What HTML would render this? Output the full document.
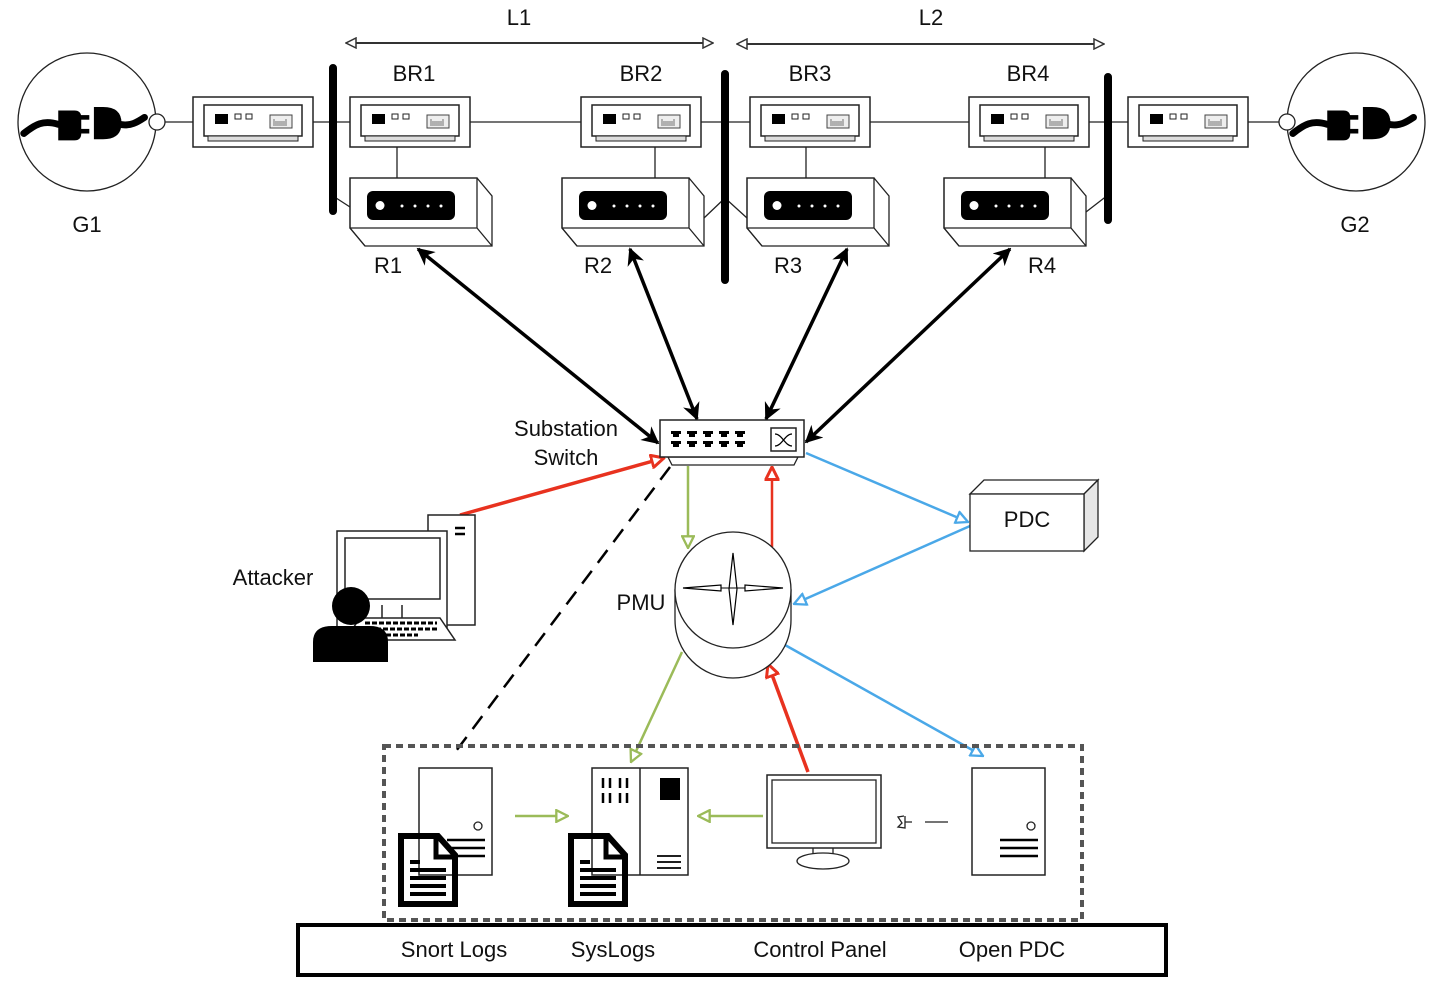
<!DOCTYPE html>
<html><head><meta charset="utf-8"><style>
html,body{margin:0;padding:0;background:#fff}
svg{display:block}
text{font-family:"Liberation Sans",Arial,sans-serif;font-size:22px;fill:#111}
</style></head><body>
<svg width="1435" height="994" viewBox="0 0 1435 994" xmlns="http://www.w3.org/2000/svg">
<defs>
<marker id="ab" viewBox="0 0 10 10" refX="9" refY="5" markerWidth="5" markerHeight="5" orient="auto-start-reverse"><path d="M0,0 L10,5 L0,10 L3,5 z" fill="#000"/></marker>
<marker id="ow" viewBox="0 0 12 12" refX="11" refY="6" markerWidth="12" markerHeight="12" markerUnits="userSpaceOnUse" orient="auto-start-reverse"><path d="M1,1 L11,6 L1,11 z" fill="#fff" stroke="#333" stroke-width="1.5"/></marker>
<marker id="og" viewBox="0 0 12 12" refX="11" refY="6" markerWidth="14" markerHeight="14" markerUnits="userSpaceOnUse" orient="auto"><path d="M1,1 L11,6 L1,11 z" fill="#fff" stroke="#9bbb59" stroke-width="2"/></marker>
<marker id="or" viewBox="0 0 12 12" refX="11" refY="6" markerWidth="15" markerHeight="15" markerUnits="userSpaceOnUse" orient="auto"><path d="M1,1 L11,6 L1,11 z" fill="#fff" stroke="#e8321f" stroke-width="2.4"/></marker>
<marker id="obl" viewBox="0 0 12 12" refX="11" refY="6" markerWidth="14" markerHeight="14" markerUnits="userSpaceOnUse" orient="auto"><path d="M1,1 L11,6 L1,11 z" fill="#fff" stroke="#4aa8e8" stroke-width="2"/></marker>
<g id="brk">
<rect x="0" y="0" width="120" height="50" fill="#fff" stroke="#222" stroke-width="1.5"/>
<rect x="11" y="8" width="98" height="31" fill="#fff" stroke="#222" stroke-width="1.5"/>
<rect x="15" y="39" width="90" height="5" fill="#ddd" stroke="#222" stroke-width="1"/>
<rect x="22" y="17" width="13" height="10" fill="#000"/>
<rect x="42" y="17" width="6" height="5" fill="#fff" stroke="#222"/>
<rect x="53" y="17" width="6" height="5" fill="#fff" stroke="#222"/>
<rect x="77" y="18" width="22" height="13" fill="#eee" stroke="#444"/>
<path d="M81,22v7M83,24v5M85,24v5M87,24v5M89,24v5M91,24v5M93,22v7" stroke="#555" stroke-width="0.8"/>
</g>
<g id="rtr">
<path d="M0,0 H127 L142,18 V68 H15 L0,50 Z" fill="#fff" stroke="#222" stroke-width="1.3"/>
<path d="M0,0 H127 V50 H0 Z M127,50 L142,68 M0,50 L15,68" fill="none" stroke="#222" stroke-width="1.3"/>
<rect x="17" y="13" width="88" height="29" rx="6" fill="#000"/>
<circle cx="30" cy="27.5" r="4.5" fill="#fff"/>
<circle cx="52" cy="28" r="1.5" fill="#fff"/><circle cx="65" cy="28" r="1.5" fill="#fff"/><circle cx="78" cy="28" r="1.5" fill="#fff"/><circle cx="91" cy="28" r="1.5" fill="#fff"/>
</g>
<g id="plug">
<path d="M-55,10 C-45,2 -38,-2 -25,2" stroke="#000" stroke-width="6" fill="none" stroke-linecap="round"/>
<path d="M-25,-10 h14 q6,0 6,6 v14 q0,6 -6,6 h-14 z" fill="#000"/>
<rect x="-7" y="-6" width="9" height="4" fill="#000"/><rect x="-7" y="6" width="9" height="4" fill="#000"/>
<path d="M6,-13 h8 q16,0 16,14 q0,14 -16,14 h-8 z" fill="#000"/>
<path d="M28,2 C38,4 44,0 50,-4" stroke="#000" stroke-width="6" fill="none" stroke-linecap="round"/>
</g>
<g id="srv">
<rect x="0" y="0" width="73" height="107" fill="#fff" stroke="#222" stroke-width="1.5"/>
<circle cx="59" cy="58" r="4" fill="#fff" stroke="#222" stroke-width="1.3"/>
<path d="M28,72h38M28,80h38M28,88h38" stroke="#000" stroke-width="2.5"/>
</g>
<g id="doc">
<path d="M3,3 H40 L57,22 V71 H3 Z" fill="none" stroke="#000" stroke-width="6"/>
<path d="M38,3 V24 H57" fill="none" stroke="#000" stroke-width="5"/>
<path d="M12,29h10M12,37h36M12,45h36M12,53h36M12,61h36" stroke="#000" stroke-width="4"/>
</g>
</defs>

<line x1="346" y1="43" x2="713" y2="43" stroke="#333" stroke-width="2" marker-start="url(#ow)" marker-end="url(#ow)"/>
<line x1="737" y1="44" x2="1104" y2="44" stroke="#333" stroke-width="2" marker-start="url(#ow)" marker-end="url(#ow)"/>
<text x="519" y="25" text-anchor="middle">L1</text>
<text x="931" y="25" text-anchor="middle">L2</text>

<line x1="157" y1="122" x2="1287" y2="122" stroke="#222" stroke-width="1.3"/>
<circle cx="87" cy="122" r="69" fill="#fff" stroke="#222" stroke-width="1.3"/>
<use href="#plug" transform="translate(87,122) scale(1.15)"/>
<circle cx="157" cy="122" r="8" fill="#fff" stroke="#222" stroke-width="1.3"/>
<circle cx="1356" cy="122" r="69" fill="#fff" stroke="#222" stroke-width="1.3"/>
<use href="#plug" transform="translate(1356,122) scale(1.15)"/>
<circle cx="1287" cy="122" r="8" fill="#fff" stroke="#222" stroke-width="1.3"/>
<text x="87" y="232" text-anchor="middle">G1</text>
<text x="1355" y="232" text-anchor="middle">G2</text>

<path d="M397,147V178M655,147V178M806,147V178M1045,147V178" stroke="#222" stroke-width="1.3"/>
<path d="M333,196L350,207M704,218L725,198M747,218L725,198M1086,212L1108,195" stroke="#222" stroke-width="1.3"/>

<use href="#brk" x="193" y="97"/>
<use href="#brk" x="350" y="97"/>
<use href="#brk" x="581" y="97"/>
<use href="#brk" x="750" y="97"/>
<use href="#brk" x="969" y="97"/>
<use href="#brk" x="1128" y="97"/>

<use href="#rtr" x="350" y="178"/>
<use href="#rtr" x="562" y="178"/>
<use href="#rtr" x="747" y="178"/>
<use href="#rtr" x="944" y="178"/>

<path d="M333,68V211M725,74V280M1108,77V220" stroke="#000" stroke-width="8" stroke-linecap="round"/>

<text x="414" y="81" text-anchor="middle">BR1</text>
<text x="641" y="81" text-anchor="middle">BR2</text>
<text x="810" y="81" text-anchor="middle">BR3</text>
<text x="1028" y="81" text-anchor="middle">BR4</text>
<text x="388" y="273" text-anchor="middle">R1</text>
<text x="598" y="273" text-anchor="middle">R2</text>
<text x="788" y="273" text-anchor="middle">R3</text>
<text x="1042" y="273" text-anchor="middle">R4</text>

<g stroke="#000" stroke-width="3.5" fill="none">
<line x1="418" y1="249" x2="658" y2="443" marker-start="url(#ab)" marker-end="url(#ab)"/>
<line x1="630" y1="249" x2="697" y2="419" marker-start="url(#ab)" marker-end="url(#ab)"/>
<line x1="847" y1="249" x2="766" y2="419" marker-start="url(#ab)" marker-end="url(#ab)"/>
<line x1="1010" y1="249" x2="806" y2="442" marker-start="url(#ab)" marker-end="url(#ab)"/>
</g>

<line x1="670" y1="467" x2="453" y2="755" stroke="#000" stroke-width="2.5" stroke-dasharray="16,10"/>

<line x1="688" y1="466" x2="688" y2="548" stroke="#9bbb59" stroke-width="2.5" marker-end="url(#og)"/>
<line x1="772" y1="547" x2="772" y2="467" stroke="#e8321f" stroke-width="2.5" marker-end="url(#or)"/>
<line x1="460" y1="515" x2="664" y2="458" stroke="#e8321f" stroke-width="3.5" marker-end="url(#or)"/>
<line x1="806" y1="453" x2="968" y2="522" stroke="#4aa8e8" stroke-width="2.5" marker-end="url(#obl)"/>
<line x1="970" y1="526" x2="794" y2="604" stroke="#4aa8e8" stroke-width="2.5" marker-end="url(#obl)"/>
<line x1="785" y1="645" x2="983" y2="756" stroke="#4aa8e8" stroke-width="2.5" marker-end="url(#obl)"/>
<line x1="682" y1="652" x2="631" y2="762" stroke="#9bbb59" stroke-width="2.5" marker-end="url(#og)"/>
<line x1="808" y1="772" x2="768" y2="664" stroke="#e8321f" stroke-width="3.5" marker-end="url(#or)"/>

<path d="M668,457 H798 L794,465 H672 Z" fill="#fff" stroke="#222" stroke-width="1.3"/>
<rect x="660" y="420" width="144" height="37" fill="#fff" stroke="#222" stroke-width="1.5"/>
<g fill="#000">
<path d="M671,431h10v3h-2v3h-6v-3h-2z"/>
<path d="M671,431h10v3h-2v3h-6v-3h-2z" transform="translate(16,0)"/>
<path d="M671,431h10v3h-2v3h-6v-3h-2z" transform="translate(32,0)"/>
<path d="M671,431h10v3h-2v3h-6v-3h-2z" transform="translate(48,0)"/>
<path d="M671,431h10v3h-2v3h-6v-3h-2z" transform="translate(64,0)"/>
<path d="M671,431h10v3h-2v3h-6v-3h-2z" transform="translate(0,10)"/>
<path d="M671,431h10v3h-2v3h-6v-3h-2z" transform="translate(16,10)"/>
<path d="M671,431h10v3h-2v3h-6v-3h-2z" transform="translate(32,10)"/>
<path d="M671,431h10v3h-2v3h-6v-3h-2z" transform="translate(48,10)"/>
<path d="M671,431h10v3h-2v3h-6v-3h-2z" transform="translate(64,10)"/>
</g>
<rect x="771" y="428" width="25" height="23" fill="#fff" stroke="#222" stroke-width="1.5"/>
<path d="M775,434 C782,434 785,446 792,446 M775,446 C782,446 785,434 792,434" stroke="#000" stroke-width="1.3" fill="none"/>
<text x="566" y="436" text-anchor="middle">Substation</text>
<text x="566" y="465" text-anchor="middle">Switch</text>

<path d="M675,590 V620 A58,58 0 0 0 791,620 V590 Z" fill="#fff" stroke="#222" stroke-width="1.3"/>
<circle cx="733" cy="590" r="58" fill="#fff" stroke="#222" stroke-width="1.3"/>
<path d="M733,553 L737,589 L733,625 L729,589 Z" fill="#fff" stroke="#000" stroke-width="1.2"/>
<path d="M683,588 L721,585 V591 Z M783,588 L745,585 V591 Z" fill="#fff" stroke="#000" stroke-width="1.2"/>
<line x1="721" y1="588" x2="745" y2="588" stroke="#000"/>
<text x="641" y="610" text-anchor="middle">PMU</text>

<path d="M970,494 L984,480 H1098 L1084,494 Z" fill="#fff" stroke="#222" stroke-width="1.3"/>
<path d="M1084,494 L1098,480 V537 L1084,551 Z" fill="#e6e6e6" stroke="#222" stroke-width="1.3"/>
<rect x="970" y="494" width="114" height="57" fill="#fff" stroke="#222" stroke-width="1.3"/>
<text x="1027" y="527" text-anchor="middle">PDC</text>

<rect x="428" y="515" width="47" height="110" fill="#fff" stroke="#222" stroke-width="1.5"/>
<path d="M455,528h10M455,534h10" stroke="#000" stroke-width="2.5"/>
<rect x="337" y="531" width="110" height="101" fill="#fff" stroke="#222" stroke-width="1.5"/>
<rect x="345" y="538" width="95" height="61" fill="#fff" stroke="#222" stroke-width="1.5"/>
<path d="M382,605v13M402,605v13" stroke="#222" stroke-width="1.5"/>
<path d="M360,618 H440 L455,640 H345 Z" fill="#fff" stroke="#222" stroke-width="1.5"/>
<path d="M365,623h72M362,629h76M358,635h60" stroke="#000" stroke-width="3" stroke-dasharray="5,2"/>
<circle cx="351" cy="606" r="19" fill="#000"/>
<path d="M313,662 V642 Q313,626 332,626 H370 Q388,626 388,642 V662 Z" fill="#000"/>
<text x="273" y="585" text-anchor="middle">Attacker</text>

<rect x="384" y="746" width="698" height="174" fill="none" stroke="#555" stroke-width="4" stroke-dasharray="7,5"/>

<use href="#srv" x="419" y="768"/>
<use href="#doc" x="398" y="833"/>
<line x1="515" y1="816" x2="568" y2="816" stroke="#9bbb59" stroke-width="2.5" marker-end="url(#og)"/>
<rect x="592" y="768" width="96" height="107" fill="#fff" stroke="#222" stroke-width="1.5"/>
<line x1="640" y1="768" x2="640" y2="875" stroke="#222" stroke-width="1.5"/>
<path d="M603,778v10M610,778v10M620,778v10M627,778v10M603,793v10M610,793v10M620,793v10M627,793v10" stroke="#000" stroke-width="2.5"/>
<rect x="660" y="778" width="20" height="22" fill="#000"/>
<path d="M657,856h24M657,862h24M657,868h24" stroke="#000" stroke-width="1.8"/>
<use href="#doc" x="568" y="833"/>
<line x1="763" y1="816" x2="698" y2="816" stroke="#9bbb59" stroke-width="2.5" marker-end="url(#og)"/>
<rect x="767" y="775" width="114" height="73" fill="#fff" stroke="#222" stroke-width="1.5"/>
<rect x="772" y="780" width="104" height="63" fill="#fff" stroke="#222" stroke-width="1.3"/>
<path d="M813,848v10M833,848v10" stroke="#222" stroke-width="1.3"/>
<ellipse cx="823" cy="861" rx="26" ry="8" fill="#fff" stroke="#222" stroke-width="1.3"/>
<path d="M904,816 L898,817 L902,823 L898,827 L905,828 V816 M905,822 H912 M925,822 H948" stroke="#222" stroke-width="1.3" fill="none"/>
<use href="#srv" x="972" y="768"/>

<rect x="298" y="925" width="868" height="50" fill="#fff" stroke="#000" stroke-width="4"/>
<text x="454" y="957" text-anchor="middle">Snort Logs</text>
<text x="613" y="957" text-anchor="middle">SysLogs</text>
<text x="820" y="957" text-anchor="middle">Control Panel</text>
<text x="1012" y="957" text-anchor="middle">Open PDC</text>
</svg>
</body></html>
